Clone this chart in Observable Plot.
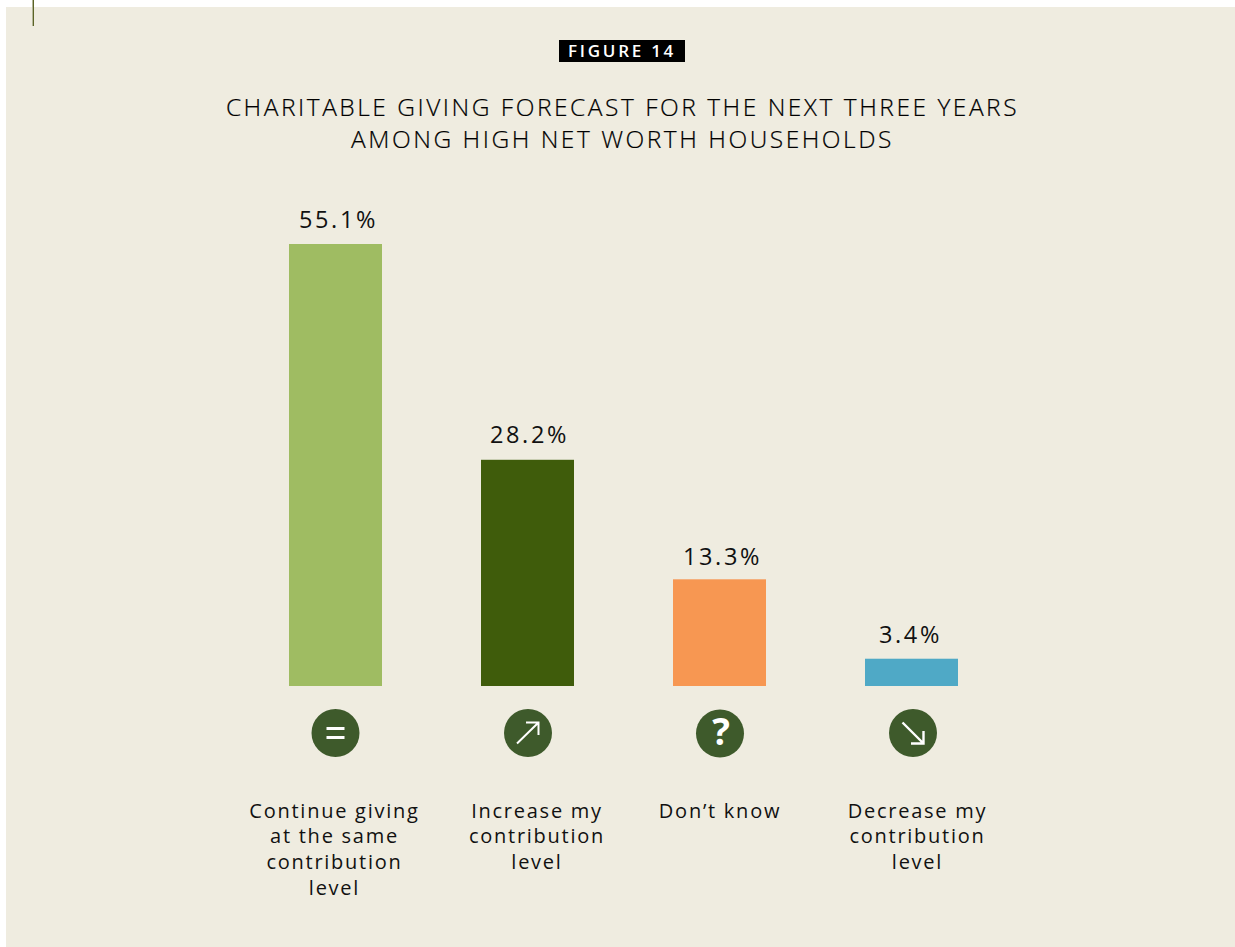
<!DOCTYPE html>
<html>
<head>
<meta charset="utf-8">
<script src="https://cdn.jsdelivr.net/npm/d3@7"></script>
<script src="https://cdn.jsdelivr.net/npm/@observablehq/plot@0.6"></script>
<style>
  html, body { margin: 0; padding: 0; background: #fff; overflow: hidden; }
  #page { position: relative; width: 1235px; height: 947px; font-family: "Open Sans", sans-serif; }
  #panel { position: absolute; left: 6px; top: 7px; width: 1229px; height: 940px; background: #efece0; }
  #mark { position: absolute; left: 32px; top: 0; width: 2px; height: 26px; background: linear-gradient(to right, #b4b69a 50%, #5c6426 50%); }
  #badge { position: absolute; left: 559px; top: 40px; width: 126px; height: 22px; background: #000; color: #fff;
           font-size: 17px; font-weight: 600; letter-spacing: 2.75px; line-height: 22px; text-align: center; }
  #title { position: absolute; left: 6px; width: 1233px; top: 91px; margin: 0; text-align: center; color: #000;
           font-size: 24.5px; font-weight: 300; letter-spacing: 2.52px; line-height: 32px; -webkit-text-stroke: 0.2px #000; }
  #chart { position: absolute; left: 0; top: 190px; }
  .value-label text, text.value-label { letter-spacing: 2.6px; }
  .tick-label text, text.tick-label { letter-spacing: 1.75px; }
</style>
</head>
<body>
<div id="page">
  <div id="panel"></div>
  <div id="mark"></div>
  <div id="badge">FIGURE 14</div>
  <h1 id="title">CHARITABLE GIVING FORECAST FOR THE NEXT THREE YEARS<br>AMONG HIGH NET WORTH HOUSEHOLDS</h1>
  <div id="chart"></div>
</div>
<script>
const categories = ["same", "increase", "unknown", "decrease"];
const values = [55.1, 28.2, 13.3, 3.4];
const valueLabels = ["55.1%", "28.2%", "13.3%", "3.4%"];
const tickLabels = [
  "Continue giving\nat the same\ncontribution\nlevel",
  "Increase my\ncontribution\nlevel",
  "Don’t know",
  "Decrease my\ncontribution\nlevel"
];
const colors = ["#9fbc62", "#3f5c0b", "#f79752", "#4fa9c6"];

const table = categories.map((category, i) => ({
  category, value: values[i], valueLabel: valueLabels[i], tickLabel: tickLabels[i], color: colors[i]
}));

// Style offsets relative to the bar centres, as in the original layout
const valueDx = [2.5, 1.5, 2.5, -1.5];
const valueDy = [-24, -24.5, -22, -23.5];
const iconDx = [-0.5, 0, 0, 1];
const iconDy = [46.5, 46.5, 47, 46.5];
const labelDx = [-1.5, 9, 0, 5.5];

const arrowUp = { draw(c) { c.moveTo(-11, 10.5); c.lineTo(10.5, -10.5); c.moveTo(-2, -10.5); c.lineTo(10.5, -10.5); c.lineTo(10.5, 2); } };
const arrowDown = { draw(c) { c.moveTo(-10.5, -10.5); c.lineTo(10.5, 10.5); c.moveTo(10.5, -2); c.lineTo(10.5, 10.5); c.lineTo(-2, 10.5); } };
const equalsSign = { draw(c) { c.moveTo(-9, -4.5); c.lineTo(9, -4.5); c.moveTo(-9, 4.5); c.lineTo(9, 4.5); } };

const marks = [
  Plot.barY(table, { x: "category", y: "value", fill: "color" })
];
table.forEach((d, i) => {
  marks.push(
    Plot.text([d], { x: "category", y: "value", text: "valueLabel", dx: valueDx[i], dy: valueDy[i],
                     fontSize: 23.5, fill: "#111", className: "value-label" }),
    Plot.dot([d], { x: "category", y: () => 0, r: 24, dx: iconDx[i], dy: iconDy[i], fill: "#3e5a2b" }),
    Plot.text([d], { x: "category", y: () => 0, text: "tickLabel", dx: labelDx[i], dy: 113,
                     lineAnchor: "top", lineHeight: 1.285, fontSize: 20, fill: "#111", className: "tick-label" })
  );
});
const iconMark = (i, symbol, strokeWidth) => Plot.dot([table[i]], {
  x: "category", y: () => 0, dx: iconDx[i], dy: iconDy[i], r: 1, symbol, fill: "none", stroke: "#fff", strokeWidth
});
marks.push(
  iconMark(0, equalsSign, 2.8),
  iconMark(1, arrowUp, 2),
  iconMark(3, arrowDown, 2.4),
  Plot.text([table[2]], { x: "category", y: () => 0, text: () => "?", dx: iconDx[2] + 1, dy: iconDy[2],
                          fontSize: 37, fontWeight: 700, fill: "#fff" })
);

const chart = Plot.plot({
  width: 1235,
  height: 720,
  marginTop: 54,
  marginBottom: 224,
  marginLeft: 190,
  marginRight: 178,
  x: { domain: categories, padding: 0.5156, axis: null },
  y: { domain: [0, 55.1], axis: null },
  style: { background: "transparent", fontFamily: "'Open Sans', sans-serif", overflow: "visible" },
  marks
});
document.getElementById("chart").appendChild(chart);
</script>
</body>
</html>
